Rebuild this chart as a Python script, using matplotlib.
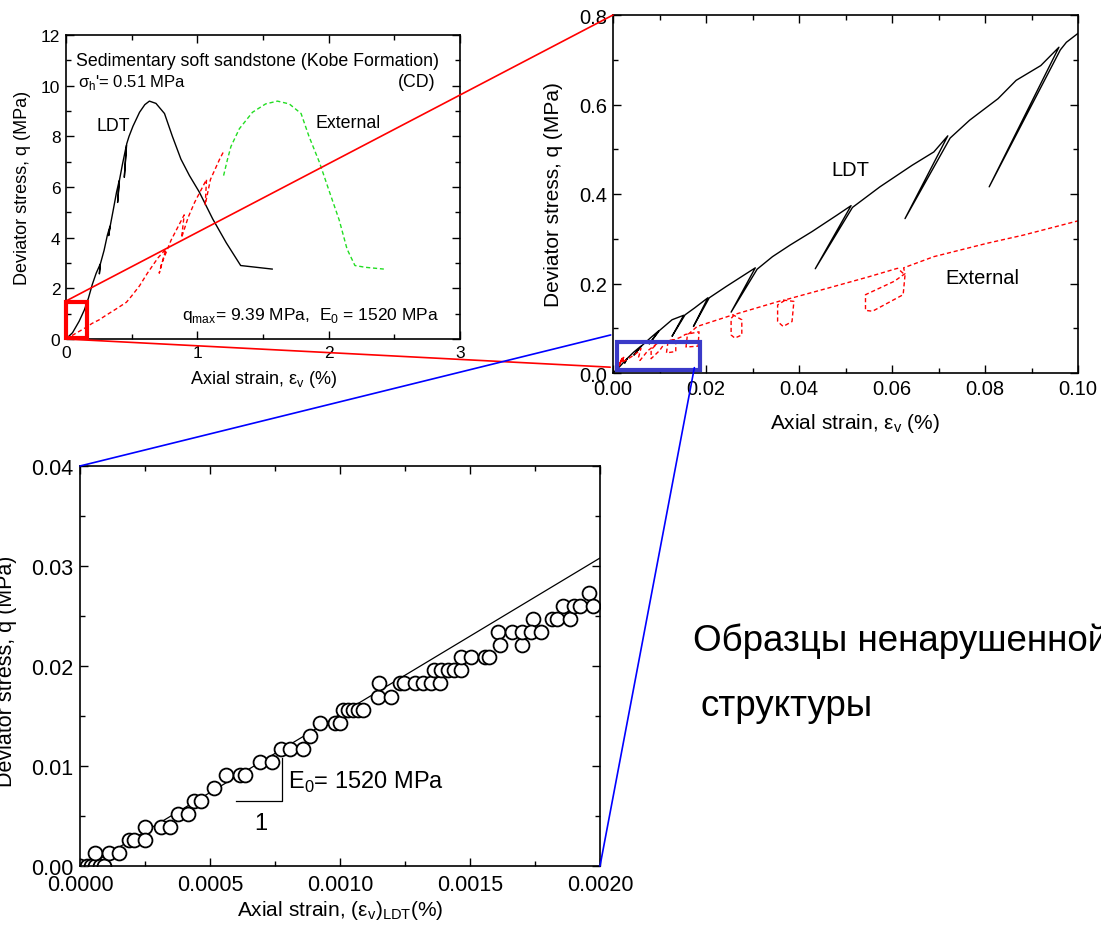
import matplotlib
matplotlib.use("Agg")
import matplotlib.pyplot as plt
from matplotlib.patches import Rectangle, ConnectionPatch
from matplotlib.ticker import MultipleLocator, FormatStrFormatter

plt.rcParams['font.family'] = ['Liberation Sans', 'DejaVu Sans']
plt.rcParams['mathtext.fontset'] = 'custom'
plt.rcParams['mathtext.rm'] = 'Liberation Sans'

# ---------------- data: panel 1 (full curve) ----------------
ldt1_x = [0, 0.05, 0.10, 0.14, 0.17, 0.20, 0.23, 0.26, 0.254, 0.262, 0.29, 0.315, 0.335, 0.325,
          0.337, 0.36, 0.385, 0.405, 0.393, 0.407, 0.43, 0.46, 0.444, 0.462, 0.48, 0.51, 0.56,
          0.60, 0.635, 0.685, 0.75, 0.81, 0.875, 0.94, 1.015, 1.117, 1.22, 1.33, 1.45, 1.57]
ldt1_q = [0, 0.25, 0.70, 1.15, 1.60, 2.15, 2.60, 2.95, 2.57, 2.97, 3.50, 4.10, 4.45, 4.08,
          4.47, 5.10, 5.80, 6.25, 5.39, 6.27, 6.90, 7.65, 6.38, 7.70, 8.00, 8.40, 8.95,
          9.25, 9.39, 9.30, 8.90, 8.00, 7.10, 6.45, 5.80, 4.74, 3.80, 2.90, 2.83, 2.76]
ext1_x = [0, 0.05, 0.10, 0.15, 0.20, 0.25, 0.30, 0.38, 0.46, 0.50, 0.56, 0.62, 0.70, 0.76,
          0.71, 0.73, 0.80, 0.86, 0.90, 0.88, 0.93, 0.98, 1.07, 1.06, 1.10, 1.17, 1.20]
ext1_q = [0, 0.15, 0.30, 0.45, 0.62, 0.75, 0.92, 1.18, 1.45, 1.70, 2.10, 2.60, 3.20, 3.55,
          2.60, 3.00, 3.90, 4.50, 4.90, 4.00, 4.80, 5.40, 6.30, 5.30, 6.30, 7.10, 7.40]
ext1b_x = [1.20, 1.23, 1.256, 1.32, 1.42, 1.52, 1.61, 1.70, 1.79, 1.85, 1.93, 2.00, 2.08,
           2.14, 2.20, 2.28, 2.42]
ext1b_q = [6.45, 7.10, 7.60, 8.30, 8.95, 9.28, 9.39, 9.28, 8.90, 8.00, 6.97, 5.90, 4.70,
           3.55, 2.90, 2.83, 2.76]

# ---------------- data: panel 2 (small strain) ----------------
ldt2_x = [0, 0.0015, 0.0030, 0.0025, 0.0031, 0.0045, 0.0060, 0.0045, 0.0062, 0.0080, 0.0098,
          0.0078, 0.0100, 0.0127, 0.0152, 0.0127, 0.0155, 0.0175, 0.0204, 0.0173, 0.0207,
          0.0243, 0.0306, 0.0254, 0.0310, 0.0343, 0.0381, 0.0428, 0.0482, 0.0512, 0.0435,
          0.0515, 0.0574, 0.0643, 0.0690, 0.0720, 0.0628, 0.0725, 0.0767, 0.0828, 0.0867,
          0.0920, 0.0959, 0.0809, 0.0962, 0.0975, 0.1000]
ldt2_q = [0, 0.015, 0.032, 0.022, 0.033, 0.047, 0.060, 0.040, 0.061, 0.078, 0.094,
          0.065, 0.095, 0.119, 0.129, 0.082, 0.130, 0.145, 0.168, 0.104, 0.168,
          0.193, 0.235, 0.136, 0.232, 0.260, 0.286, 0.316, 0.353, 0.374, 0.233,
          0.370, 0.416, 0.464, 0.494, 0.530, 0.345, 0.525, 0.565, 0.613, 0.654,
          0.687, 0.728, 0.416, 0.722, 0.739, 0.759]
ext2_x = [0.0008, 0.0022, 0.0009, 0.0023, 0.0010, 0.0022, 0.0012, 0.0030, 0.0045, 0.0055,
          0.0060, 0.0055, 0.0058, 0.0075, 0.0090, 0.0095, 0.0082, 0.0082, 0.0100, 0.0115,
          0.0135, 0.0135, 0.0115, 0.0118, 0.0150, 0.0155, 0.0185, 0.0183, 0.0157, 0.0160,
          0.0181, 0.0258, 0.0277, 0.0277, 0.0262, 0.0254, 0.0254, 0.0262, 0.0366, 0.0389,
          0.0385, 0.0366, 0.0354, 0.0354, 0.0372, 0.0460, 0.0550, 0.0612, 0.0628, 0.0624,
          0.0558, 0.0543, 0.0543, 0.0605, 0.0628, 0.0625, 0.0690, 0.0805, 0.0882, 0.1000]
ext2_q = [0.012, 0.036, 0.013, 0.035, 0.012, 0.030, 0.020, 0.030, 0.040, 0.048,
          0.055, 0.035, 0.028, 0.050, 0.062, 0.066, 0.052, 0.032, 0.050, 0.072,
          0.075, 0.048, 0.045, 0.068, 0.082, 0.086, 0.092, 0.060, 0.058, 0.085,
          0.104, 0.130, 0.119, 0.085, 0.078, 0.085, 0.122, 0.131, 0.163, 0.160,
          0.115, 0.104, 0.115, 0.152, 0.164, 0.189, 0.215, 0.234, 0.219, 0.175,
          0.138, 0.140, 0.175, 0.205, 0.222, 0.235, 0.260, 0.290, 0.308, 0.340]

# ---------------- data: panel 3 (very small strain, LDT) ----------------
pts_x = [0, 0.000027, 0.000043, 0.000059, 0.000075, 0.000091, 0.000056, 0.00011, 0.00015,
         0.000187, 0.000206, 0.00025, 0.00025, 0.00031, 0.000346, 0.000375, 0.000415,
         0.000437, 0.000467, 0.000515, 0.000561, 0.000614, 0.000633, 0.000694, 0.000737,
         0.000773, 0.000809, 0.000856, 0.000885, 0.000925, 0.000981, 0.00100, 0.00101,
         0.00103, 0.00105, 0.00107, 0.00109, 0.001147, 0.00115, 0.001195, 0.001231,
         0.001247, 0.001287, 0.001319, 0.001351, 0.001383, 0.001362, 0.00139, 0.001415,
         0.001439, 0.001466, 0.001466, 0.001502, 0.001558, 0.001574, 0.001606, 0.001614,
         0.001662, 0.001699, 0.001699, 0.001742, 0.001734, 0.001774, 0.001814, 0.001834,
         0.001857, 0.001885, 0.001901, 0.001925, 0.001957, 0.001973]
pts_q = [0, 0, 0, 0, 0, 0, 0.0013, 0.0013, 0.0013,
         0.0026, 0.0026, 0.0039, 0.0026, 0.0039, 0.0039, 0.0052, 0.0052,
         0.0065, 0.0065, 0.0078, 0.0091, 0.0091, 0.0091, 0.0104, 0.0104,
         0.0117, 0.0117, 0.0117, 0.0130, 0.0143, 0.0143, 0.0143, 0.0156,
         0.0156, 0.0156, 0.0156, 0.0156, 0.0169, 0.0183, 0.0169, 0.0183,
         0.0183, 0.0183, 0.0183, 0.0183, 0.0183, 0.0196, 0.0196, 0.0196,
         0.0196, 0.0196, 0.0209, 0.0209, 0.0209, 0.0209, 0.0234, 0.0221,
         0.0234, 0.0221, 0.0234, 0.0247, 0.0234, 0.0234, 0.0247, 0.0247,
         0.0260, 0.0247, 0.0260, 0.0260, 0.0273, 0.0260]
fit_x = [0.00003, 0.0020]
fit_q = [0.0, 0.0308]
slope_x = [0.000601, 0.000777, 0.000777]
slope_q = [0.00652, 0.00652, 0.0108]

W, H = 1101, 929
fig = plt.figure(figsize=(W / 100, H / 100), dpi=100)


def box(l, r, t, b):
    return [l / W, 1 - b / H, (r - l) / W, (b - t) / H]


def style(ax, fs):
    ax.tick_params(which='both', direction='in', top=True, right=True, labelsize=fs,
                   width=1.0, pad=4)
    ax.tick_params(which='major', length=6)
    ax.tick_params(which='minor', length=3.5)
    for s in ax.spines.values():
        s.set_linewidth(1.2)


ax1 = fig.add_axes(box(66, 460, 36, 340))
ax2 = fig.add_axes(box(613, 1078, 16, 374))
ax3 = fig.add_axes(box(80, 600, 467, 867))

# ---- panel 1 ----
ax1.plot(ldt1_x, ldt1_q, color='black', lw=1.0)
ax1.plot(ext1_x, ext1_q, color='red', lw=1.0, dashes=(3, 2))
ax1.plot(ext1b_x, ext1b_q, color='#22dd22', lw=1.0, dashes=(3, 2))
ax1.set_xlim(0, 3)
ax1.set_ylim(0, 12)
ax1.xaxis.set_major_locator(MultipleLocator(1))
ax1.xaxis.set_minor_locator(MultipleLocator(0.5))
ax1.yaxis.set_major_locator(MultipleLocator(2))
ax1.yaxis.set_minor_locator(MultipleLocator(1))
style(ax1, 12.5)
ax1.set_xlabel('Axial strain, ε$_\\mathregular{v}$ (%)', fontsize=13)
ax1.set_ylabel('Deviator stress, q (MPa)', fontsize=13)
ax1.xaxis.set_label_coords(0.5, -0.095)
ax1.yaxis.set_label_coords(-0.09, 0.5)
ax1.text(0.076, 11.0, 'Sedimentary soft sandstone (Kobe Formation)', fontsize=12.8, va='center')
ax1.text(0.09, 10.15, "σ$_\\mathregular{h}$'= 0.51 MPa", fontsize=12, va='center')
ax1.text(2.81, 10.15, '(CD)', fontsize=12.8, va='center', ha='right')
ax1.text(0.23, 8.42, 'LDT', fontsize=12.8, va='center')
ax1.text(1.90, 8.53, 'External', fontsize=12.8, va='center')
ax1.text(0.88, 0.95, 'q$_\\mathregular{max}$= 9.39 MPa,  E$_\\mathregular{0}$ = 1520 MPa',
         fontsize=12.5, va='center')
ax1.add_patch(Rectangle((0.0, 0.05), 0.16, 1.40, fill=False, ec='red', lw=3.0,
                        clip_on=False, zorder=5))

# ---- panel 2 ----
ax2.plot(ldt2_x, ldt2_q, color='black', lw=1.0)
ax2.plot(ext2_x, ext2_q, color='red', lw=1.0, dashes=(3, 2))
ax2.set_xlim(0, 0.1)
ax2.set_ylim(0, 0.8)
ax2.xaxis.set_major_locator(MultipleLocator(0.02))
ax2.xaxis.set_minor_locator(MultipleLocator(0.01))
ax2.yaxis.set_major_locator(MultipleLocator(0.2))
ax2.yaxis.set_minor_locator(MultipleLocator(0.1))
ax2.xaxis.set_major_formatter(FormatStrFormatter('%.2f'))
ax2.yaxis.set_major_formatter(FormatStrFormatter('%.1f'))
style(ax2, 14.5)
ax2.set_xlabel('Axial strain, ε$_\\mathregular{v}$ (%)', fontsize=15)
ax2.set_ylabel('Deviator stress, q (MPa)', fontsize=15)
ax2.xaxis.set_label_coords(0.52, -0.105)
ax2.yaxis.set_label_coords(-0.107, 0.5)
ax2.text(0.0511, 0.455, 'LDT', fontsize=14.5, ha='center', va='center')
ax2.text(0.0794, 0.213, 'External', fontsize=14.5, ha='center', va='center')
ax2.add_patch(Rectangle((0.0009, 0.0067), 0.0178, 0.0623, fill=False, ec='#3a3ac8',
                        lw=3.0, clip_on=False, zorder=5))

# ---- panel 3 ----
ax3.plot(fit_x, fit_q, color='black', lw=0.9)
ax3.plot(pts_x, pts_q, ls='none', marker='o', ms=10, mfc='white', mec='black', mew=1.3)
ax3.plot(slope_x, slope_q, color='black', lw=0.9)
ax3.set_xlim(0, 0.002)
ax3.set_ylim(0, 0.04)
ax3.xaxis.set_major_locator(MultipleLocator(0.0005))
ax3.xaxis.set_minor_locator(MultipleLocator(0.00025))
ax3.yaxis.set_major_locator(MultipleLocator(0.01))
ax3.yaxis.set_minor_locator(MultipleLocator(0.005))
ax3.xaxis.set_major_formatter(FormatStrFormatter('%.4f'))
ax3.yaxis.set_major_formatter(FormatStrFormatter('%.2f'))
style(ax3, 15.5)
ax3.tick_params(axis='x', pad=6)
ax3.tick_params(axis='y', pad=5)
ax3.set_xlabel('Axial strain, (ε$_\\mathregular{v}$)$_\\mathregular{LDT}$(%)', fontsize=15)
ax3.set_ylabel('Deviator stress, q (MPa)', fontsize=15.5)
ax3.xaxis.set_label_coords(0.5, -0.08)
ax3.yaxis.set_label_coords(-0.122, 0.49)
ax3.text(0.0008, 0.0085, 'E$_\\mathregular{0}$= 1520 MPa', fontsize=17, va='center')
ax3.text(0.000697, 0.0043, '1', fontsize=17, va='center', ha='center')

# ---- connecting lines ----
for xyA, axA, xyB, axB, c in [((0, 1.5), ax1, (0, 0.8), ax2, 'red'),
                              ((0, 0.0), ax1, (-0.0006, 0.013), ax2, 'red'),
                              ((0, 0.04), ax3, (-0.0005, 0.085), ax2, 'blue'),
                              ((0.002, 0.0), ax3, (0.0175, 0.012), ax2, 'blue')]:
    con = ConnectionPatch(xyA=xyA, coordsA=axA.transData, xyB=xyB, coordsB=axB.transData,
                          color=c, lw=1.2, zorder=10)
    fig.add_artist(con)

fig.text(693 / W, 1 - 641 / H, 'Образцы ненарушенной', fontsize=26.5, va='center')
fig.text(700 / W, 1 - 707 / H, 'структуры', fontsize=26.5, va='center')

fig.savefig('out.png', dpi=100)
